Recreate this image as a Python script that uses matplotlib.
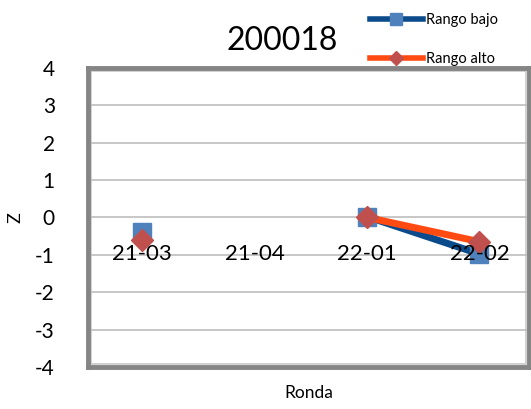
import numpy as np
import matplotlib
matplotlib.use("Agg")
from matplotlib import pyplot as plt
from matplotlib.lines import Line2D

# data
rondas = ["21-03", "21-04", "22-01", "22-02"]
rango_bajo = [-0.38, np.nan, 0.02, -0.98]
rango_alto = [-0.60, np.nan, 0.0, -0.65]
y_ticks = [-4, -3, -2, -1, 0, 1, 2, 3, 4]

plt.rcParams['font.family'] = ['Lato', 'DejaVu Sans']

fig = plt.figure(figsize=(5.31, 4.09), dpi=100)
ax = fig.add_axes([0.166, 0.103, 0.830, 0.731])

x = np.arange(len(rondas))
ax.plot(x, rango_bajo, color='#0B4A8B', linewidth=5, marker='s',
        markersize=13, markerfacecolor='#4F81BD', markeredgecolor='#4F81BD',
        zorder=3)
ax.plot(x, rango_alto, color='#FF4A12', linewidth=5, marker='D',
        markersize=11, markerfacecolor='#C0504D', markeredgecolor='#C0504D',
        zorder=4)

ax.set_xlim(-0.48, 3.44)
ax.set_ylim(-4, 4)
ax.set_yticks(y_ticks)
ax.set_yticklabels([str(t) for t in y_ticks], fontsize=15)
ax.set_xticks([])
ax.tick_params(axis='y', length=0, pad=24)
ax.grid(axis='y', color='#BEBEBE', linewidth=1.2)

# category labels sit under the zero line, as in the spreadsheet chart
for xi, lab in zip(x, rondas):
    ax.annotate(lab, (xi, 0), xytext=(0, -19), textcoords='offset points',
                ha='center', va='top', fontsize=16, zorder=5)

for side in ['left', 'right', 'top', 'bottom']:
    ax.spines[side].set_color('#858585')
    ax.spines[side].set_linewidth(3.5)
# light inner edge of the frame
ax.add_patch(plt.Rectangle((0.006, 0.01), 0.988, 0.98, transform=ax.transAxes,
                           fill=False, edgecolor='#C8C8C8', linewidth=1.2,
                           zorder=1))

ax.set_ylabel('Z', fontsize=13, labelpad=8)
ax.set_xlabel('Ronda', fontsize=12.5, labelpad=13)
fig.text(0.531, 0.9, '200018', ha='center', va='center', fontsize=23)

handles = [Line2D([], [], color='#0B4A8B', linewidth=4, marker='s',
                  markersize=9, markerfacecolor='#4F81BD',
                  markeredgecolor='#4F81BD'),
           Line2D([], [], color='#FF4A12', linewidth=4, marker='D',
                  markersize=7, markerfacecolor='#C0504D',
                  markeredgecolor='#C0504D')]
fig.legend(handles, ['Rango bajo', 'Rango alto'], loc='upper left',
           bbox_to_anchor=(0.675, 0.997), frameon=False, fontsize=10.5,
           handlelength=3.6, handletextpad=0.2, labelspacing=1.7,
           borderpad=0.3)

plt.savefig('out.png', dpi=100)
